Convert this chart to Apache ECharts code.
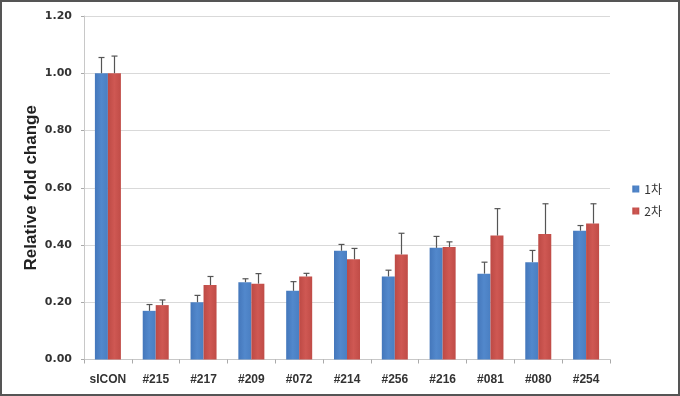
<!DOCTYPE html>
<html><head><meta charset="utf-8">
<script src="https://cdn.jsdelivr.net/npm/echarts@6/dist/echarts.min.js"></script>
<style>html,body{margin:0;padding:0;background:#fff}#c{width:680px;height:396px}</style>
</head><body><div id="c"></div>
<script>
const categories = ['sICON','#215','#217','#209','#072','#214','#256','#216','#081','#080','#254'];
const series1Name = '1차';
const series2Name = '2차';
const series1 = [1.00,0.17,0.20,0.27,0.24,0.38,0.29,0.39,0.30,0.34,0.45];
const series1Err = [0.055,0.022,0.024,0.012,0.032,0.022,0.022,0.040,0.040,0.041,0.018];
const series2 = [1.00,0.19,0.26,0.265,0.29,0.35,0.367,0.393,0.433,0.438,0.475];
const series2Err = [0.06,0.018,0.030,0.035,0.011,0.038,0.074,0.018,0.094,0.106,0.069];
const yTicks = ['0.00','0.20','0.40','0.60','0.80','1.00','1.20'];

const chart = echarts.init(document.getElementById('c'));
const BW = 13;
function errSeries(vals, errs, offset) {
  return {
    type: 'custom',
    data: vals.map((v, i) => [i, v, v + errs[i]]),
    z: 5,
    renderItem: function (params, api) {
      const base = api.coord([api.value(0), api.value(1)]);
      const top = api.coord([api.value(0), api.value(2)]);
      const x = Math.round(base[0] + offset) + 0.5;
      return {
        type: 'group',
        children: [
          {type: 'line', shape: {x1: x, y1: base[1], x2: x, y2: top[1]}, style: {stroke: '#555', lineWidth: 1.2}},
          {type: 'line', shape: {x1: x - 3, y1: top[1], x2: x + 3, y2: top[1]}, style: {stroke: '#555', lineWidth: 1.2}}
        ]
      };
    }
  };
}
const blueGrad = new echarts.graphic.LinearGradient(0, 0, 1, 0, [
  {offset: 0, color: '#4477bb'}, {offset: 0.5, color: '#5288cc'}, {offset: 1, color: '#4a7fc2'}]);
const redGrad = new echarts.graphic.LinearGradient(0, 0, 1, 0, [
  {offset: 0, color: '#bd4a45'}, {offset: 0.5, color: '#cf5853'}, {offset: 1, color: '#c04c47'}]);

chart.setOption({
  animation: false,
  graphic: [{type: 'rect', shape: {x: 1, y: 1, width: 678, height: 394},
    style: {fill: 'none', stroke: '#555', lineWidth: 2}, silent: true}],
  grid: {left: 84, right: 70, top: 16, bottom: 36.5},
  legend: {
    orient: 'vertical', right: 13, top: 178, itemWidth: 7, itemHeight: 7, itemGap: 10,
    textStyle: {fontFamily: 'Noto Sans CJK KR', fontSize: 12, color: '#333'},
    data: [{name: series1Name, icon: 'rect'}, {name: series2Name, icon: 'rect'}]
  },
  xAxis: {
    type: 'category', data: categories,
    axisLine: {lineStyle: {color: '#c8c8c8'}},
    axisTick: {show: true, length: 4, lineStyle: {color: '#aaa'}},
    axisLabel: {interval: 0, fontFamily: 'Liberation Sans', fontSize: 12, fontWeight: 'bold', color: '#333', margin: 14}
  },
  yAxis: {
    type: 'value', min: 0, max: 1.2, interval: 0.2,
    name: 'Relative fold change', nameLocation: 'middle', nameGap: 44, nameMoveOverlap: false,
    nameTextStyle: {fontFamily: 'Liberation Sans', fontSize: 17, fontWeight: 'bold', color: '#222'},
    axisLine: {show: true, lineStyle: {color: '#c8c8c8'}},
    axisTick: {show: true, length: 3, lineStyle: {color: '#aaa'}},
    splitLine: {lineStyle: {color: '#d9d9d9'}},
    axisLabel: {fontFamily: 'DejaVu Sans', fontSize: 11, fontWeight: 'bold', color: '#333', margin: 12,
      formatter: function (v) { return yTicks[Math.round(v / 0.2)]; }}
  },
  series: [
    {name: series1Name, type: 'bar', data: series1, barWidth: BW, barGap: '0%',
      itemStyle: {color: blueGrad}},
    {name: series2Name, type: 'bar', data: series2, barWidth: BW, barGap: '0%',
      itemStyle: {color: redGrad}},
    errSeries(series1, series1Err, -BW / 2),
    errSeries(series2, series2Err, BW / 2)
  ]
});
</script></body></html>
